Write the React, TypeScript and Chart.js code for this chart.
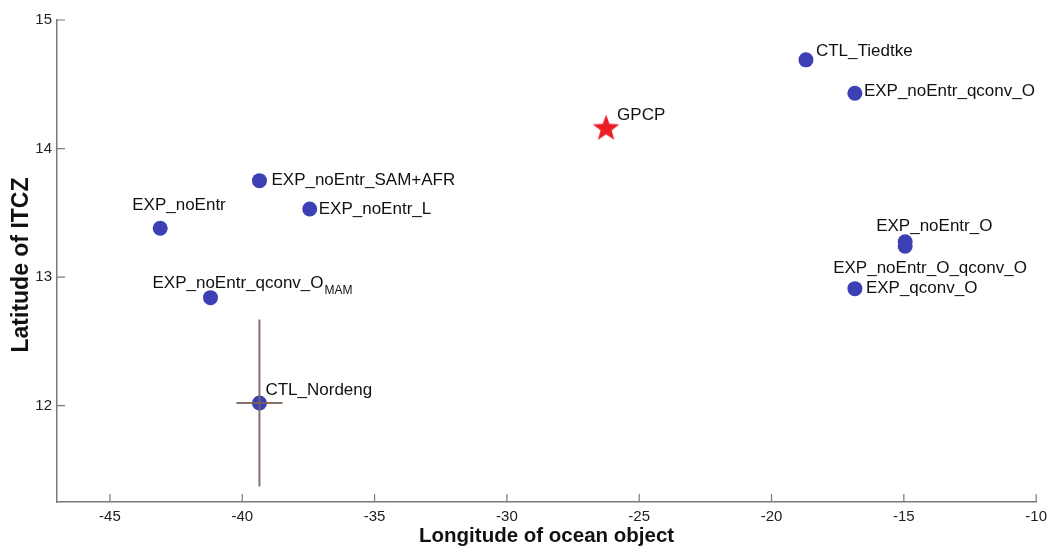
import React, { useEffect, useRef } from "react";
import { Chart, registerables } from "chart.js";

Chart.register(...registerables);

// ---- data ----
const modelNames = [
  "CTL_Tiedtke",
  "EXP_noEntr_qconv_O",
  "EXP_noEntr_SAM+AFR",
  "EXP_noEntr_L",
  "EXP_noEntr",
  "EXP_noEntr_qconv_O",
  "CTL_Nordeng",
  "EXP_noEntr_O",
  "EXP_noEntr_O_qconv_O",
  "EXP_qconv_O",
];
const modelSubscripts = ["", "", "", "", "", "MAM", "", "", "", ""];
const modelLon = [-18.7, -16.85, -39.35, -37.45, -43.1, -41.2, -39.35, -14.95, -14.95, -16.85];
const modelLat = [14.69, 14.43, 13.75, 13.53, 13.38, 12.84, 12.02, 13.275, 13.24, 12.91];

const obsName = "GPCP";
const obsLon = [-26.25];
const obsLat = [14.155];

// error bars for CTL_Nordeng
const errIndex = 6;
const lonErr = 0.87;
const latErr = 0.65;

const xTickStep = 5;
const yTickStep = 1;
const xRange = [-47, -10];
const yRange = [11.25, 15];

// label placement relative to marker (pixels)
const labelOffsets: [number, number][] = [
  [10, -9],
  [9, -2],
  [12, 0],
  [9, 0],
  [-28, -23],
  [-58, -14],
  [6, -13],
  [-29, -15],
  [-72, 22],
  [11, 0],
];
const obsLabelOffset: [number, number] = [11, -13];

function makeStar(): HTMLCanvasElement {
  const c = document.createElement("canvas");
  c.width = 32;
  c.height = 32;
  const g = c.getContext("2d")!;
  const cx = 16, cy = 16, R = 14, r = 5.8;
  g.beginPath();
  for (let i = 0; i < 10; i++) {
    const rad = i % 2 === 0 ? R : r;
    const a = -Math.PI / 2 + (i * Math.PI) / 5;
    const px = cx + rad * Math.cos(a);
    const py = cy + rad * Math.sin(a);
    if (i === 0) g.moveTo(px, py);
    else g.lineTo(px, py);
  }
  g.closePath();
  g.fillStyle = "#ec1c24";
  g.fill();
  return c;
}

const FONT = "'Liberation Sans', Arial, Helvetica, sans-serif";

const annotatePlugin = {
  id: "annotate",
  afterDatasetsDraw(chart: any) {
    const ctx = chart.ctx as CanvasRenderingContext2D;
    const xs = chart.scales.x;
    const ys = chart.scales.y;
    ctx.save();
    // error bars
    const cx = xs.getPixelForValue(modelLon[errIndex]);
    const cy = ys.getPixelForValue(modelLat[errIndex]);
    ctx.strokeStyle = "rgba(120,100,90,0.9)";
    ctx.lineWidth = 2;
    ctx.beginPath();
    ctx.moveTo(cx, ys.getPixelForValue(modelLat[errIndex] + latErr));
    ctx.lineTo(cx, ys.getPixelForValue(modelLat[errIndex] - latErr));
    ctx.moveTo(xs.getPixelForValue(modelLon[errIndex] - lonErr), cy);
    ctx.lineTo(xs.getPixelForValue(modelLon[errIndex] + lonErr), cy);
    ctx.stroke();

    // labels
    ctx.fillStyle = "#111";
    ctx.textBaseline = "middle";
    ctx.textAlign = "left";
    modelNames.forEach((name, i) => {
      const px = xs.getPixelForValue(modelLon[i]) + labelOffsets[i][0];
      const py = ys.getPixelForValue(modelLat[i]) + labelOffsets[i][1];
      ctx.font = `17px ${FONT}`;
      ctx.fillText(name, px, py);
      if (modelSubscripts[i]) {
        const w = ctx.measureText(name).width;
        ctx.font = `12px ${FONT}`;
        ctx.fillText(modelSubscripts[i], px + w + 1, py + 7);
      }
    });
    ctx.font = `17px ${FONT}`;
    ctx.fillText(
      obsName,
      xs.getPixelForValue(obsLon[0]) + obsLabelOffset[0],
      ys.getPixelForValue(obsLat[0]) + obsLabelOffset[1]
    );
    ctx.restore();
  },
  afterDraw(chart: any) {
    const ctx = chart.ctx as CanvasRenderingContext2D;
    const xs = chart.scales.x;
    const ys = chart.scales.y;
    const area = chart.chartArea;
    ctx.save();
    // inward ticks
    ctx.strokeStyle = "#7a7a7a";
    ctx.lineWidth = 1.2;
    ctx.beginPath();
    xs.ticks.forEach((t: any) => {
      const px = xs.getPixelForValue(t.value);
      ctx.moveTo(px, area.bottom);
      ctx.lineTo(px, area.bottom - 8);
    });
    ys.ticks.forEach((t: any) => {
      const py = ys.getPixelForValue(t.value);
      ctx.moveTo(area.left, py);
      ctx.lineTo(area.left + 8, py);
    });
    ctx.stroke();
    // axis titles
    ctx.fillStyle = "#111";
    ctx.font = `bold 20.5px ${FONT}`;
    ctx.textAlign = "center";
    ctx.textBaseline = "middle";
    ctx.fillText("Longitude of ocean object", (area.left + area.right) / 2, 536);
    ctx.translate(22, (area.top + area.bottom) / 2 + 4);
    ctx.rotate(-Math.PI / 2);
    ctx.font = `bold 23px ${FONT}`;
    ctx.fillText("Latitude of ITCZ", 0, 0);
    ctx.restore();
  },
};

const CANVAS_W = 1053;

export default function App() {
  const ref = useRef<HTMLCanvasElement>(null);
  useEffect(() => {
    if (!ref.current) return;
    const star = makeStar();
    const chart = new Chart(ref.current, {
      type: "scatter",
      data: {
        datasets: [
          {
            label: "models",
            data: modelLon.map((x, i) => ({ x, y: modelLat[i] })),
            backgroundColor: "#3d40b4",
            borderColor: "#3d40b4",
            pointRadius: 7.5,
            pointHoverRadius: 7.5,
            borderWidth: 0,
          },
          {
            label: obsName,
            data: obsLon.map((x, i) => ({ x, y: obsLat[i] })),
            pointStyle: star,
            pointRadius: 14,
          },
        ],
      },
      options: {
        animation: false,
        responsive: false,
        maintainAspectRatio: false,
        events: [],
        layout: { padding: { left: 0, right: 0, top: 20, bottom: 0 } },
        plugins: { legend: { display: false }, tooltip: { enabled: false } },
        scales: {
          x: {
            type: "linear",
            min: xRange[0],
            max: xRange[1],
            afterFit: (s: any) => {
              s.height = 48;
            },
            ticks: {
              stepSize: xTickStep,
              includeBounds: false,
              padding: 6,
              color: "#222",
              font: { size: 15, family: FONT },
              maxRotation: 0,
            },
            grid: { display: false, drawTicks: false },
            border: { display: true, color: "#7a7a7a", width: 1.5 },
          },
          y: {
            type: "linear",
            min: yRange[0],
            max: yRange[1],
            afterFit: (s: any) => {
              s.width = 57;
            },
            ticks: {
              stepSize: yTickStep,
              includeBounds: false,
              padding: 5,
              color: "#222",
              font: { size: 15, family: FONT },
            },
            grid: { display: false, drawTicks: false },
            border: { display: true, color: "#7a7a7a", width: 1.5 },
          },
        },
      },
      plugins: [annotatePlugin],
    });
    return () => chart.destroy();
  }, []);
  return (
    <div style={{ position: "fixed", left: 0, top: 0, width: 1047, height: 550, overflow: "hidden", background: "#fff" }}>
      <canvas ref={ref} width={CANVAS_W} height={550} style={{ width: CANVAS_W, height: 550, display: "block" }} />
    </div>
  );
}
